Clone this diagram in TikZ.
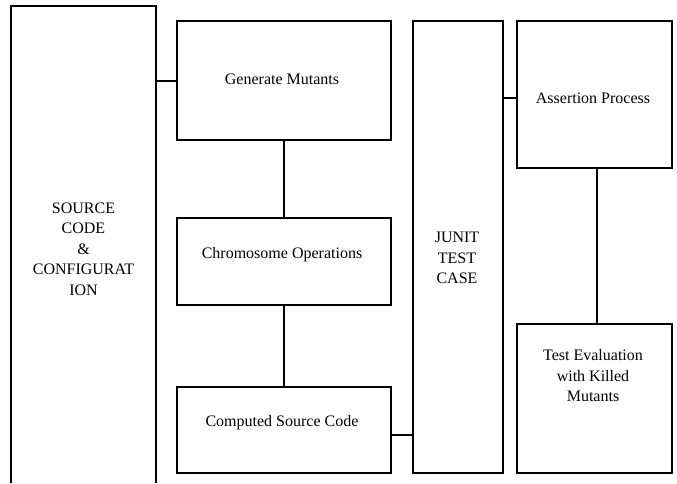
\documentclass[tikz,border=0pt]{standalone}
\usepackage{fontspec}
\setmainfont{Liberation Serif}
\begin{document}
\begin{tikzpicture}[x=1pt,y=-1pt,
  box/.style={draw=black,line width=1.8pt,inner sep=0pt,anchor=north west},
  lbl/.style={font=\fontsize{16}{20.5}\selectfont,align=center,inner sep=0pt},
  link/.style={draw=black,line width=1.8pt}]
\useasboundingbox (0,0) rectangle (677,483);
% source box (open at the bottom)
\coordinate (s1) at (11,483);
\coordinate (s2) at (11,6);
\coordinate (s3) at (156,6);
\coordinate (s4) at (156,483);
\draw[link] (s1) -- (s2) -- (s3) -- (s4);
\node[lbl] (srct) at (83.5,249) {SOURCE\\CODE\\\&\\CONFIGURAT\\ION};
% boxes
\node[box,minimum width=214pt,minimum height=119pt] (gen) at (176,20) {};
\node[box,minimum width=214pt,minimum height=87pt] (chr) at (176,217) {};
\node[box,minimum width=214pt,minimum height=86pt] (cmp) at (176,386) {};
\node[box,minimum width=90pt,minimum height=452pt] (jun) at (412,20) {};
\node[box,minimum width=155pt,minimum height=147pt] (asr) at (516,20) {};
\node[box,minimum width=155pt,minimum height=149pt] (tev) at (516,323) {};
% labels
\node[lbl] at (282,79) {Generate Mutants};
\node[lbl] at (282,255) {Chromosome Operations};
\node[lbl] at (282,423) {Computed Source Code};
\node[lbl] at (457,258) {JUNIT\\TEST\\CASE};
\node[lbl] at (593,98) {Assertion Process};
\node[lbl] at (593,376) {Test Evaluation\\with Killed\\Mutants};
% connectors
\coordinate (c1) at (156,81);
\draw[link] (c1) -- (c1 -| gen.west);
\draw[link] (gen.south) -- (chr.north);
\draw[link] (chr.south) -- (cmp.north);
\draw[link] (cmp.east |- 0,435) -- (jun.west |- 0,435);
\draw[link] (jun.east |- 0,98) -- (asr.west |- 0,98);
\draw[link] (asr.south -| 597,0) -- (tev.north -| 597,0);
\end{tikzpicture}
\end{document}
